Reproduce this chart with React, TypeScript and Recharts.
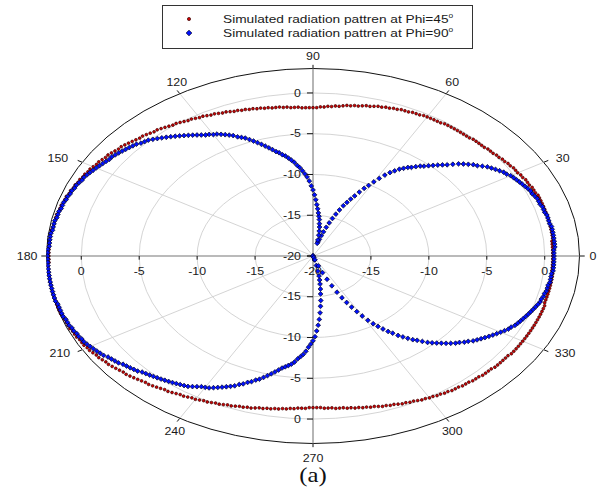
import React from 'react';
import {
  ScatterChart,
  Scatter,
  XAxis,
  YAxis,
  ReferenceArea,
  ReferenceLine,
  ReferenceDot,
  Legend,
} from 'recharts';

// one sample per degree, first sample at 0°
const ANGLE_STEP = 1;

// simulated gain in dB, Phi = 45°
const phi45 = [
  0.7, 0.7, 0.7, 0.7, 0.7, 0.7, 0.8, 0.8, 0.8, 0.8,
  0.8, 0.8, 0.8, 0.8, 0.8, 0.8, 0.8, 0.8, 0.8, 0.8,
  0.8, 0.8, 0.7, 0.7, 0.7, 0.6, 0.6, 0.6, 0.5, 0.5,
  0.4, 0.4, 0.4, 0.3, 0.3, 0.2, 0.2, 0.1, 0.1, 0.0,
  0.0, 0.0, -0.1, -0.1, -0.1, -0.1, -0.1, -0.2, -0.2, -0.2,
  -0.2, -0.2, -0.2, -0.2, -0.2, -0.2, -0.3, -0.3, -0.3, -0.3,
  -0.3, -0.3, -0.4, -0.4, -0.4, -0.5, -0.5, -0.5, -0.6, -0.6,
  -0.7, -0.7, -0.8, -0.8, -0.9, -1.0, -1.0, -1.1, -1.2, -1.2,
  -1.3, -1.3, -1.4, -1.5, -1.5, -1.6, -1.6, -1.7, -1.7, -1.8,
  -1.8, -1.8, -1.8, -1.8, -1.7, -1.7, -1.7, -1.6, -1.6, -1.5,
  -1.5, -1.5, -1.4, -1.4, -1.3, -1.3, -1.2, -1.2, -1.1, -1.1,
  -1.0, -1.0, -0.9, -0.8, -0.8, -0.7, -0.6, -0.6, -0.5, -0.4,
  -0.4, -0.3, -0.2, -0.2, -0.1, 0.0, 0.1, 0.1, 0.2, 0.3,
  0.4, 0.5, 0.5, 0.6, 0.7, 0.8, 0.8, 0.9, 1.0, 1.1,
  1.2, 1.3, 1.3, 1.4, 1.5, 1.6, 1.6, 1.7, 1.8, 1.8,
  1.9, 2.0, 2.0, 2.1, 2.1, 2.2, 2.2, 2.3, 2.3, 2.4,
  2.4, 2.5, 2.5, 2.5, 2.6, 2.6, 2.6, 2.7, 2.7, 2.7,
  2.7, 2.7, 2.8, 2.8, 2.8, 2.8, 2.8, 2.8, 2.8, 2.8,
  2.8, 2.8, 2.8, 2.9, 2.9, 2.9, 2.9, 2.9, 2.9, 2.9,
  2.9, 2.9, 2.9, 2.9, 2.9, 2.9, 2.9, 2.9, 2.9, 2.8,
  2.8, 2.8, 2.8, 2.8, 2.7, 2.7, 2.7, 2.6, 2.6, 2.6,
  2.5, 2.5, 2.4, 2.3, 2.3, 2.2, 2.1, 2.1, 2.0, 1.9,
  1.8, 1.7, 1.7, 1.6, 1.5, 1.4, 1.3, 1.2, 1.2, 1.1,
  1.0, 0.9, 0.8, 0.8, 0.7, 0.6, 0.5, 0.5, 0.4, 0.3,
  0.3, 0.2, 0.1, 0.1, 0.0, -0.1, -0.1, -0.2, -0.3, -0.3,
  -0.4, -0.5, -0.5, -0.6, -0.6, -0.7, -0.8, -0.8, -0.9, -0.9,
  -1.0, -1.0, -1.1, -1.1, -1.2, -1.2, -1.3, -1.3, -1.3, -1.4,
  -1.4, -1.4, -1.4, -1.3, -1.3, -1.3, -1.2, -1.2, -1.2, -1.1,
  -1.1, -1.0, -1.0, -0.9, -0.9, -0.8, -0.8, -0.7, -0.6, -0.6,
  -0.5, -0.5, -0.4, -0.3, -0.3, -0.2, -0.2, -0.1, 0.0, 0.0,
  0.1, 0.1, 0.2, 0.2, 0.3, 0.3, 0.4, 0.4, 0.4, 0.5,
  0.5, 0.5, 0.6, 0.6, 0.6, 0.7, 0.7, 0.7, 0.7, 0.8,
  0.8, 0.8, 0.8, 0.8, 0.8, 0.9, 0.9, 0.9, 0.9, 0.9,
  0.9, 0.9, 0.9, 0.9, 0.9, 0.9, 0.9, 0.9, 0.9, 0.9,
  0.9, 0.9, 0.9, 0.9, 0.8, 0.8, 0.8, 0.8, 0.8, 0.8,
  0.8, 0.8, 0.8, 0.8, 0.8, 0.7, 0.7, 0.7, 0.7, 0.7,
];

// simulated gain in dB, Phi = 90° (values at or below -20 sit on the centre)
const phi90 = [
  0.8, 0.8, 0.8, 0.9, 0.9, 0.9, 0.9, 0.9, 0.9, 0.9,
  0.9, 0.8, 0.8, 0.8, 0.8, 0.7, 0.7, 0.7, 0.6, 0.6,
  0.6, 0.5, 0.4, 0.4, 0.3, 0.2, 0.1, 0.0, -0.1, -0.2,
  -0.3, -0.5, -0.6, -0.8, -1.0, -1.2, -1.4, -1.7, -2.0, -2.2,
  -2.5, -2.8, -3.1, -3.5, -3.9, -4.2, -4.5, -4.8, -5.1, -5.4,
  -5.6, -5.9, -6.2, -6.4, -6.7, -7.0, -7.4, -7.8, -8.3, -8.9,
  -9.5, -10.1, -10.6, -11.2, -11.8, -12.3, -12.8, -13.3, -13.9, -14.5,
  -15.1, -15.7, -16.3, -16.9, -17.4, -17.9, -18.2, -18.4, -18.0, -17.4,
  -16.9, -16.4, -16.0, -15.5, -15.1, -14.7, -14.2, -13.7, -13.1, -12.5,
  -11.9, -11.4, -10.8, -10.3, -9.9, -9.5, -9.1, -8.8, -8.4, -8.1,
  -7.8, -7.5, -7.3, -7.0, -6.8, -6.5, -6.2, -5.9, -5.6, -5.3,
  -5.0, -4.7, -4.4, -4.2, -4.0, -3.7, -3.5, -3.3, -3.1, -2.9,
  -2.8, -2.6, -2.5, -2.3, -2.1, -1.9, -1.7, -1.5, -1.3, -1.1,
  -0.9, -0.7, -0.5, -0.3, -0.1, 0.1, 0.2, 0.3, 0.5, 0.6,
  0.7, 0.8, 0.9, 1.0, 1.1, 1.2, 1.2, 1.3, 1.4, 1.5,
  1.6, 1.7, 1.8, 1.9, 2.0, 2.0, 2.1, 2.2, 2.2, 2.3,
  2.3, 2.4, 2.4, 2.5, 2.5, 2.5, 2.6, 2.6, 2.6, 2.7,
  2.7, 2.7, 2.7, 2.8, 2.8, 2.8, 2.8, 2.8, 2.9, 2.9,
  2.9, 2.9, 2.9, 2.9, 2.9, 2.9, 2.9, 2.9, 2.9, 2.9,
  2.9, 2.9, 2.9, 2.9, 2.9, 2.8, 2.8, 2.8, 2.8, 2.8,
  2.7, 2.7, 2.7, 2.6, 2.6, 2.5, 2.5, 2.4, 2.4, 2.3,
  2.2, 2.1, 2.0, 1.9, 1.8, 1.6, 1.5, 1.4, 1.3, 1.1,
  1.0, 0.9, 0.8, 0.7, 0.5, 0.4, 0.3, 0.2, 0.1, 0.0,
  -0.1, -0.2, -0.3, -0.4, -0.5, -0.6, -0.7, -0.9, -1.1, -1.3,
  -1.4, -1.5, -1.7, -1.9, -2.1, -2.3, -2.5, -2.7, -3.0, -3.2,
  -3.5, -3.7, -4.0, -4.2, -4.5, -4.8, -5.1, -5.4, -5.7, -6.0,
  -6.2, -6.4, -6.6, -6.9, -7.3, -7.6, -7.9, -8.3, -8.8, -9.2,
  -9.6, -10.1, -10.8, -11.5, -12.2, -13.0, -13.8, -14.5, -15.3, -15.9,
  -16.5, -17.0, -17.5, -18.1, -18.8, -19.5, -20.0, -20.0, -20.0, -19.8,
  -19.5, -18.7, -17.8, -16.9, -16.0, -15.1, -14.3, -13.6, -12.9, -12.2,
  -11.5, -10.8, -10.2, -9.7, -9.2, -8.7, -8.3, -7.8, -7.4, -7.0,
  -6.6, -6.3, -5.9, -5.5, -5.2, -4.9, -4.6, -4.3, -4.0, -3.7,
  -3.5, -3.2, -3.0, -2.7, -2.5, -2.3, -2.1, -1.9, -1.7, -1.5,
  -1.3, -1.1, -0.9, -0.8, -0.6, -0.5, -0.4, -0.3, -0.2, -0.1,
  0.0, 0.1, 0.2, 0.3, 0.4, 0.4, 0.5, 0.5, 0.6, 0.6,
  0.6, 0.7, 0.7, 0.7, 0.7, 0.8, 0.8, 0.8, 0.8, 0.8,
];

const DB_MIN = -20;
const DB_MAX = 3;
const ringLevels = [-15, -10, -5, 0];
const radialTicks = [0, -5, -10, -15, -20];
const angleTicks = [0, 30, 60, 90, 120, 150, 180, 210, 240, 270, 300, 330];

const series = [
  { name: 'Simulated radiation pattren at Phi=45', values: phi45, kind: 'dot' },
  { name: 'Simulated radiation pattren at Phi=90', values: phi90, kind: 'diamond' },
];

const R = DB_MAX - DB_MIN;
const rad = (deg: number) => (deg * Math.PI) / 180;
const dist = (db: number) => Math.max(0, db - DB_MIN);

// polar (angle, dB) -> plane, the chart's own scales do the rest
const toPoints = (values: number[]) =>
  values.map((v, i) => {
    const a = rad(i * ANGLE_STEP);
    return { angle: i * ANGLE_STEP, db: v, x: dist(v) * Math.cos(a), y: dist(v) * Math.sin(a) };
  });

const FONT = "'Liberation Sans', Arial, Helvetica, sans-serif";
const STRETCH = 1.18;
const INK = '#1a1a1a';

// where each angle label sits relative to its tick: [dx, dy, anchor]
const anglePos: Record<number, [number, number, string]> = {
  0: [10, 0, 'start'],
  30: [12, -4, 'start'],
  60: [6, -11, 'middle'],
  90: [0, -12, 'middle'],
  120: [-3, -11, 'middle'],
  150: [-14, -4, 'end'],
  180: [-9, 0, 'end'],
  210: [-12, 4, 'end'],
  240: [-5, 13, 'middle'],
  270: [0, 15, 'middle'],
  300: [6, 13, 'middle'],
  330: [11, 4, 'start'],
};

const textAt = (label: string, dx: number, dy: number, anchor: string) => (p: any) => (
  <text
    transform={`translate(${p.cx + dx},${p.cy + dy + 3.7}) scale(${STRETCH},1)`}
    textAnchor={anchor}
    fontSize={10.5}
    fontFamily={FONT}
    fill={INK}
  >
    {label}
  </text>
);

const ring = (stroke: string, width: number) => (p: any) => (
  <ellipse
    cx={p.x + p.width / 2}
    cy={p.y + p.height / 2}
    rx={Math.abs(p.width) / 2}
    ry={Math.abs(p.height) / 2}
    fill="none"
    stroke={stroke}
    strokeWidth={width}
  />
);

const RedDot = (p: any) => (
  <circle cx={p.cx} cy={p.cy} r={1.4} fill="#d00000" stroke="#3a0000" strokeWidth={0.7} />
);

const BlueDiamond = (p: any) => (
  <path
    d={`M${p.cx},${p.cy - 2.4}L${p.cx + 2.4},${p.cy}L${p.cx},${p.cy + 2.4}L${p.cx - 2.4},${p.cy}Z`}
    fill="#0010ff"
    stroke="#000020"
    strokeWidth={0.7}
  />
);

const Marker = ({ kind }: { kind: string }) => (
  <svg width={10} height={10} style={{ display: 'block' }}>
    {kind === 'dot' ? (
      <circle cx={5} cy={5} r={1.6} fill="#d00000" stroke="#3a0000" strokeWidth={0.7} />
    ) : (
      <path d="M5,2.2L7.9,5L5,7.8L2.1,5Z" fill="#0010ff" stroke="#000020" strokeWidth={0.7} />
    )}
  </svg>
);

const renderLegend = () => (
  <div
    style={{
      boxSizing: 'border-box',
      width: 311,
      height: 44,
      border: '1px solid #333',
      background: '#fff',
      position: 'relative',
      fontFamily: FONT,
    }}
  >
    {series.map((s, i) => (
      <div key={s.name} style={{ position: 'absolute', left: 0, top: 6 + i * 14, height: 14, width: '100%' }}>
        <div style={{ position: 'absolute', left: 21, top: 2 }}>
          <Marker kind={s.kind} />
        </div>
        <div
          style={{
            position: 'absolute',
            left: 60,
            top: 0,
            lineHeight: '14px',
            fontSize: 11.5,
            whiteSpace: 'nowrap',
            color: INK,
            transform: 'scaleX(1.19)',
            transformOrigin: 'left center',
          }}
        >
          {s.name}
          <sup style={{ fontSize: 7, verticalAlign: 'top', lineHeight: '8px' }}>o</sup>
        </div>
      </div>
    ))}
  </div>
);

export default function App() {
  const red = toPoints(phi45);
  const blue = toPoints(phi90);

  return (
    <div style={{ padding: 8, width: 592, height: 474, overflow: 'hidden' }}>
      <style>{'body{margin:0}'}</style>
      <div style={{ position: 'relative', width: 592, height: 474 }}>
        <ScatterChart width={592} height={474} margin={{ top: 60.5, right: 20.5, bottom: 38.5, left: 38.5 }}>
          <XAxis type="number" dataKey="x" domain={[-R, R]} allowDataOverflow hide />
          <YAxis type="number" dataKey="y" domain={[-R, R]} allowDataOverflow hide />

          {ringLevels.map((lv) => (
            <ReferenceArea
              key={`ring${lv}`}
              x1={-dist(lv)}
              x2={dist(lv)}
              y1={-dist(lv)}
              y2={dist(lv)}
              ifOverflow="visible"
              shape={ring('#cfcfcf', 0.9)}
            />
          ))}

          {angleTicks
            .filter((a) => a % 90 !== 0)
            .map((a) => (
              <ReferenceLine
                key={`spoke${a}`}
                segment={[{ x: 0, y: 0 }, { x: R * Math.cos(rad(a)), y: R * Math.sin(rad(a)) }]}
                stroke="#cfcfcf"
                strokeWidth={0.9}
                ifOverflow="visible"
              />
            ))}

          <ReferenceLine segment={[{ x: -R, y: 0 }, { x: R, y: 0 }]} stroke="#a3a3a3" strokeWidth={1.6} ifOverflow="visible" />
          <ReferenceLine segment={[{ x: 0, y: -R }, { x: 0, y: R }]} stroke="#a3a3a3" strokeWidth={1.6} ifOverflow="visible" />

          <ReferenceArea x1={-R} x2={R} y1={-R} y2={R} ifOverflow="visible" shape={ring('#111', 1)} />

          {angleTicks.map((a) => (
            <ReferenceLine
              key={`atick${a}`}
              segment={[
                { x: R * Math.cos(rad(a)), y: R * Math.sin(rad(a)) },
                { x: (R + 0.45) * Math.cos(rad(a)), y: (R + 0.45) * Math.sin(rad(a)) },
              ]}
              stroke="#111"
              strokeWidth={1}
              ifOverflow="visible"
            />
          ))}

          {angleTicks.map((a) => {
            const [dx, dy, anchor] = anglePos[a];
            return (
              <ReferenceDot
                key={`alabel${a}`}
                x={R * Math.cos(rad(a))}
                y={R * Math.sin(rad(a))}
                r={0}
                ifOverflow="visible"
                shape={textAt(String(a), dx, dy, anchor)}
              />
            );
          })}

          {[1, -1].map((side) =>
            radialTicks.map((t) => (
              <ReferenceLine
                key={`vtick${side}${t}`}
                segment={[{ x: -0.52, y: side * dist(t) }, { x: 0, y: side * dist(t) }]}
                stroke="#111"
                strokeWidth={1}
                ifOverflow="visible"
              />
            ))
          )}
          {[1, -1].map((side) =>
            radialTicks.map((t) => (
              <ReferenceLine
                key={`htick${side}${t}`}
                segment={[{ x: side * dist(t), y: 0 }, { x: side * dist(t), y: -0.45 }]}
                stroke="#111"
                strokeWidth={1}
                ifOverflow="visible"
              />
            ))
          )}

          {[1, -1].map((side) =>
            radialTicks
              .filter((t) => side === 1 || t !== DB_MIN)
              .map((t) => (
                <ReferenceDot
                  key={`vlabel${side}${t}`}
                  x={0}
                  y={side * dist(t)}
                  r={0}
                  ifOverflow="visible"
                  shape={textAt(String(t), -12, 0, 'end')}
                />
              ))
          )}
          {[1, -1].map((side) =>
            radialTicks
              .filter((t) => side === 1 || t !== DB_MIN)
              .map((t) => (
                <ReferenceDot
                  key={`hlabel${side}${t}`}
                  x={side * dist(t)}
                  y={0}
                  r={0}
                  ifOverflow="visible"
                  shape={textAt(String(t), 0, 15, 'middle')}
                />
              ))
          )}

          <Scatter name={series[0].name} data={red} shape={RedDot} isAnimationActive={false} />
          <Scatter name={series[1].name} data={blue} shape={BlueDiamond} isAnimationActive={false} />

          <Legend
            layout="horizontal"
            verticalAlign="middle"
            align="center"
            content={renderLegend}
            wrapperStyle={{ left: 153.7, top: -3, width: 311, height: 44, margin: 0 }}
          />
        </ScatterChart>
        <div
          style={{
            position: 'absolute',
            left: 0,
            top: 459,
            width: 610,
            textAlign: 'center',
            fontFamily: "'Liberation Serif', 'Times New Roman', serif",
            fontSize: 21,
            lineHeight: '17px',
            height: 17,
            color: '#111',
            transform: 'scaleX(1.18)',
          }}
        >
          (a)
        </div>
      </div>
    </div>
  );
}
